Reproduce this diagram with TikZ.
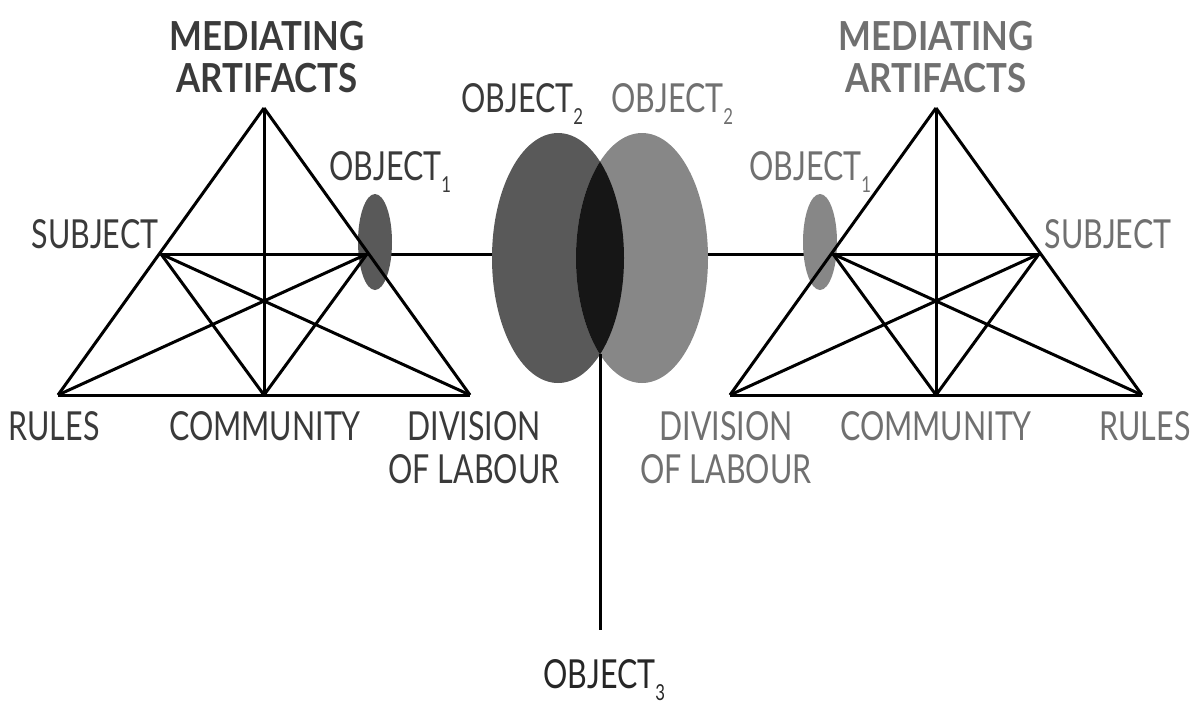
\documentclass[tikz,border=0pt]{standalone}
\usepackage{fontspec}
\setmainfont{Lato}[FakeStretch=0.76, BoldFeatures={FakeStretch=0.87}]
\usetikzlibrary{shapes.geometric, positioning, calc}
\definecolor{DarkInk}{HTML}{3A3A3A}
\definecolor{LightInk}{HTML}{707070}
\definecolor{DarkObj}{HTML}{595959}
\definecolor{LightObj}{HTML}{878787}
\definecolor{SharedObj}{HTML}{161616}
\newcommand{\objsub}[1]{\raisebox{-0.6ex}{\fontsize{11}{11}\selectfont #1}}

\begin{document}
\begin{tikzpicture}[
    x=0.5pt, y=-0.5pt,
    link/.style={draw=black, line width=1.5pt, line join=round},
    lbl/.style={font=\fontsize{20}{21.5}\selectfont, inner sep=0pt},
    head/.style={font=\fontsize{20}{21}\selectfont\bfseries, inner sep=0pt, align=center},
    dark/.style={text=DarkInk},
    light/.style={text=LightInk},
    blob/.style={ellipse, inner sep=0pt, draw=none}
]
\useasboundingbox (0,0) rectangle (1190,702);

% shared objects
\node[blob, fill=DarkObj, minimum width=66pt, minimum height=125pt] (lob2) at (558,258) {};
\node[blob, fill=LightObj, minimum width=66pt, minimum height=125pt] (rob2) at (642,258) {};
\begin{scope}
    \clip (lob2.center) ellipse [x radius=33pt, y radius=62.5pt];
    \fill[SharedObj] (rob2.center) ellipse [x radius=33pt, y radius=62.5pt];
\end{scope}

% triangle corners
\coordinate (lMA) at (264,108);
\coordinate (lRU) at (58,395);
\coordinate (lDL) at (470,395);
\coordinate (lCO) at (264,395);
\coordinate (lSU) at (161,254);
\coordinate (lOB) at (367,254);
\coordinate (rMA) at (936,108);
\coordinate (rRU) at (1142,395);
\coordinate (rDL) at (730,395);
\coordinate (rCO) at (936,395);
\coordinate (rSU) at (1039,254);
\coordinate (rOB) at (833,254);

\draw[link] (lOB) -- (lOB -| lob2.west);
\draw[link] (rOB) -- (rOB -| rob2.east);

\node[blob, fill=DarkObj, minimum width=17pt, minimum height=48pt] (lob1) at (375,242) {};
\node[blob, fill=LightObj, minimum width=17pt, minimum height=48pt] (rob1) at (820,242) {};

\foreach \a/\b in {MA/RU, RU/DL, DL/MA, MA/CO, SU/OB, SU/CO, SU/DL, OB/CO, OB/RU}
    \draw[link] (l\a) -- (l\b) (r\a) -- (r\b);

\coordinate (lens) at (600,354);
\coordinate (stem) at (600,630);
\draw[link] (lens) -- (stem);

% labels, left system
\node[head, dark, anchor=base] (lmed) at (267,92) {MEDIATING\\ARTIFACTS};
\node[lbl, dark, anchor=base west] (lob1t) at (329,180) {OBJECT\objsub{1}};
\node[lbl, dark, anchor=base] (lsubt) at (95,248) {SUBJECT};
\node[lbl, dark, anchor=base west] (lob2t) at (461,112) {OBJECT\objsub{2}};
\node[lbl, dark, anchor=base] (lrult) at (54,440) {RULES};
\node[lbl, dark, anchor=base] (lcomt) at (265,440) {COMMUNITY};
\node[lbl, dark, anchor=base, align=center] (ldivt) at (474,483) {DIVISION\\OF LABOUR};

% labels, right system
\node[head, light, anchor=base] (rmed) at (936,92) {MEDIATING\\ARTIFACTS};
\node[lbl, light, anchor=base west] (rob1t) at (749,180) {OBJECT\objsub{1}};
\node[lbl, light, anchor=base] (rsubt) at (1108,248) {SUBJECT};
\node[lbl, light, anchor=base west] (rob2t) at (611,112) {OBJECT\objsub{2}};
\node[lbl, light, anchor=base] (rrult) at (1145,440) {RULES};
\node[lbl, light, anchor=base] (rcomt) at (936,440) {COMMUNITY};
\node[lbl, light, anchor=base, align=center] (rdivt) at (726,483) {DIVISION\\OF LABOUR};

\node[lbl, text=black!85, anchor=base west] (ob3t) at (543,688) {OBJECT\objsub{3}};
\end{tikzpicture}
\end{document}
